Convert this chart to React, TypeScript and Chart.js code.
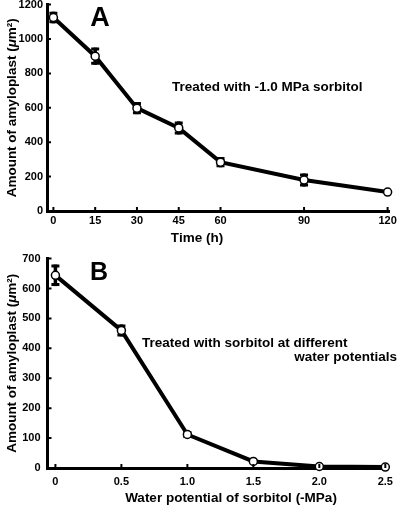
import React, { useEffect, useRef } from "react";
import { Chart, registerables } from "chart.js";

Chart.register(...registerables);

const FONT = '"Liberation Sans", Arial, Helvetica, sans-serif';

// ---- Panel A: time course at -1.0 MPa sorbitol ----
const timeHours = [0, 15, 30, 45, 60, 90, 120];
const amyloplastA = [1125, 900, 598, 483, 284, 180, 110];
const errorA = [34, 50, 35, 38, 30, 38, 0];
const xTicksA = [0, 15, 30, 45, 60, 90, 120];
const xTickLabelsA = ["0", "15", "30", "45", "60", "90", "120"];

// ---- Panel B: different water potentials ----
const waterPotential = [0, 0.5, 1.0, 1.5, 2.0, 2.5];
const amyloplastB = [644, 460, 112, 22, 5, 3];
const errorB = [36, 20, 12, 0, 0, 0];
const xTicksB = [0, 0.5, 1.0, 1.5, 2.0, 2.5];
const xTickLabelsB = ["0", "0.5", "1.0", "1.5", "2.0", "2.5"];

type TextItem = { text: string; x: number; y: number; size: number; align: CanvasTextAlign };

type Panel = {
  top: number;
  height: number;
  xs: number[];
  ys: number[];
  errs: number[];
  xTicks: number[];
  xTickLabels: string[];
  xMin: number;
  xMax: number;
  yMax: number;
  yStep: number;
  yWidth: number;
  xHeight: number;
  padRight: number;
  xTickPad: number;
  yTickPad: number;
  xTitle: string;
  xTitleX: number;
  xTitleY: number;
  texts: TextItem[];
};

const panelA: Panel = {
  top: -6,
  height: 257,
  xs: timeHours,
  ys: amyloplastA,
  errs: errorA,
  xTicks: xTicksA,
  xTickLabels: xTickLabelsA,
  xMin: -2.3,
  xMax: 120.5,
  yMax: 1200,
  yStep: 200,
  yWidth: 47,
  xHeight: 40,
  padRight: 11,
  xTickPad: 3,
  yTickPad: 4,
  xTitle: "Time (h)",
  xTitleX: 197,
  xTitleY: 238,
  texts: [
    { text: "A", x: 100, y: 19, size: 27, align: "center" },
    { text: "Treated with -1.0 MPa sorbitol", x: 172, y: 87, size: 13.5, align: "left" },
  ],
};

const panelB: Panel = {
  top: 245,
  height: 262,
  xs: waterPotential,
  ys: amyloplastB,
  errs: errorB,
  xTicks: xTicksB,
  xTickLabels: xTickLabelsB,
  xMin: -0.06,
  xMax: 2.51,
  yMax: 700,
  yStep: 100,
  yWidth: 47.5,
  xHeight: 39,
  padRight: 11.5,
  xTickPad: 7,
  yTickPad: 7,
  xTitle: "Water potential of sorbitol (-MPa)",
  xTitleX: 231,
  xTitleY: 498,
  texts: [
    { text: "B", x: 99, y: 273, size: 25, align: "center" },
    { text: "Treated with sorbitol at different", x: 142, y: 343.5, size: 13.5, align: "left" },
    { text: "water potentials", x: 397, y: 357.5, size: 13.5, align: "right" },
  ],
};

function makeChart(canvas: HTMLCanvasElement, p: Panel) {
  const decor = {
    id: "decor",
    beforeDatasetsDraw(chart: any) {
      const ctx = chart.ctx as CanvasRenderingContext2D;
      const xs = chart.scales.x;
      const ys = chart.scales.y;
      ctx.save();
      ctx.strokeStyle = "#000";
      ctx.lineCap = "butt";
      p.xs.forEach((xv, i) => {
        const e = p.errs[i];
        if (!e) return;
        const px = xs.getPixelForValue(xv);
        const t = ys.getPixelForValue(p.ys[i] + e);
        const b = ys.getPixelForValue(p.ys[i] - e);
        ctx.lineWidth = 3.5;
        ctx.beginPath();
        ctx.moveTo(px, t);
        ctx.lineTo(px, b);
        ctx.stroke();
        ctx.lineWidth = 3;
        ctx.beginPath();
        ctx.moveTo(px - 4, t + 1.5);
        ctx.lineTo(px + 4, t + 1.5);
        ctx.moveTo(px - 4, b - 1.5);
        ctx.lineTo(px + 4, b - 1.5);
        ctx.stroke();
      });
      ctx.restore();
    },
    afterDraw(chart: any) {
      const ctx = chart.ctx as CanvasRenderingContext2D;
      const area = chart.chartArea;
      const xs = chart.scales.x;
      const ys = chart.scales.y;
      ctx.save();
      // inward tick marks
      ctx.strokeStyle = "#000";
      ctx.lineWidth = 2;
      ctx.beginPath();
      p.xTicks.forEach((v) => {
        const px = xs.getPixelForValue(v);
        ctx.moveTo(px, area.bottom);
        ctx.lineTo(px, area.bottom - 4);
      });
      ys.ticks.forEach((t: any) => {
        const py = ys.getPixelForValue(t.value);
        ctx.moveTo(area.left, py);
        ctx.lineTo(area.left + 4, py);
      });
      ctx.stroke();

      ctx.fillStyle = "#000";
      ctx.textBaseline = "middle";
      // annotations
      p.texts.forEach((t) => {
        ctx.font = `bold ${t.size}px ${FONT}`;
        ctx.textAlign = t.align;
        ctx.fillText(t.text, t.x, t.y - p.top);
      });
      // x title
      ctx.font = `bold 13.5px ${FONT}`;
      ctx.textAlign = "center";
      ctx.fillText(p.xTitle, p.xTitleX, p.xTitleY - p.top);
      // y title (rotated, with italic mu)
      const segs = [
        { t: "Amount of amyloplast (", f: `bold 13.5px ${FONT}` },
        { t: "\u03bc", f: `italic bold 13.5px ${FONT}` },
        { t: "m\u00b2)", f: `bold 13.5px ${FONT}` },
      ];
      let total = 0;
      segs.forEach((s) => {
        ctx.font = s.f;
        total += ctx.measureText(s.t).width;
      });
      ctx.translate(12, (area.top + area.bottom) / 2);
      ctx.rotate(-Math.PI / 2);
      ctx.textAlign = "left";
      let cx = -total / 2;
      segs.forEach((s) => {
        ctx.font = s.f;
        ctx.fillText(s.t, cx, 0);
        cx += ctx.measureText(s.t).width;
      });
      ctx.restore();
    },
  };

  const tickFont = { family: FONT, size: 11, weight: "bold" as const };

  return new Chart(canvas, {
    type: "line",
    data: {
      datasets: [
        {
          data: p.xs.map((x, i) => ({ x, y: p.ys[i] })),
          borderColor: "#000",
          borderWidth: 4,
          pointRadius: 4,
          pointBackgroundColor: "#fff",
          pointBorderColor: "#000",
          pointBorderWidth: 1.5,
          tension: 0,
          clip: false as any,
        },
      ],
    },
    options: {
      responsive: false,
      animation: false,
      devicePixelRatio: 1,
      layout: { padding: { left: 0, right: p.padRight, top: 0, bottom: 0 } },
      plugins: { legend: { display: false }, tooltip: { enabled: false } },
      scales: {
        x: {
          type: "linear",
          min: p.xMin,
          max: p.xMax,
          grid: { display: false, drawTicks: false },
          border: { display: true, color: "#000", width: 3 },
          ticks: {
            color: "#000",
            font: tickFont,
            padding: p.xTickPad,
            autoSkip: false,
            maxRotation: 0,
            callback: (_v: any, i: number) => p.xTickLabels[i],
          },
          afterBuildTicks: (s: any) => {
            s.ticks = p.xTicks.map((v) => ({ value: v }));
          },
          afterFit: (s: any) => {
            s.height = p.xHeight;
          },
        },
        y: {
          type: "linear",
          min: 0,
          max: p.yMax,
          grid: { display: false, drawTicks: false },
          border: { display: true, color: "#000", width: 3 },
          ticks: {
            color: "#000",
            font: tickFont,
            padding: p.yTickPad,
            stepSize: p.yStep,
            callback: (v: any) => String(v),
          },
          afterFit: (s: any) => {
            s.width = p.yWidth;
          },
        },
      },
    } as any,
    plugins: [decor],
  });
}

export default function App() {
  const refA = useRef<HTMLCanvasElement>(null);
  const refB = useRef<HTMLCanvasElement>(null);

  useEffect(() => {
    const a = makeChart(refA.current!, panelA);
    const b = makeChart(refB.current!, panelB);
    return () => {
      a.destroy();
      b.destroy();
    };
  }, []);

  return (
    <div
      style={{
        position: "fixed",
        left: 0,
        top: 0,
        width: 400,
        height: 507,
        overflow: "hidden",
        background: "#fff",
      }}
    >
      <canvas
        ref={refA}
        width={400}
        height={panelA.height}
        style={{ position: "absolute", left: 0, top: panelA.top, width: 400, height: panelA.height }}
      />
      <canvas
        ref={refB}
        width={400}
        height={panelB.height}
        style={{ position: "absolute", left: 0, top: panelB.top, width: 400, height: panelB.height }}
      />
    </div>
  );
}
